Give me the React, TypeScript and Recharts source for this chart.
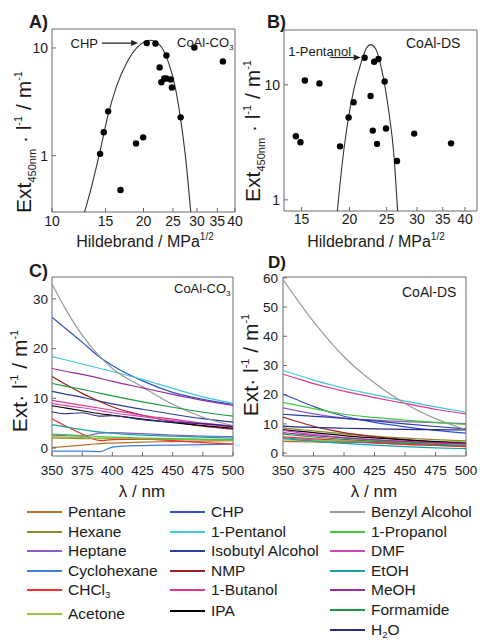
import React from 'react';
import { ComposedChart, LineChart, Line, Scatter, XAxis, YAxis, ReferenceArea, ReferenceLine } from 'recharts';

const FONT = '"Liberation Sans", Arial, Helvetica, sans-serif';
const INK = '#1a1a1a';
const FRAME = '#6a6a6a';

// A) CoAl-CO3: extinction at 450 nm vs Hildebrand parameter
const aHildebrand = [20.5, 21.9, 23.8, 22.6, 22.9, 23.4, 23.8, 24.6, 24.8, 26.5, 29.4, 36.5, 15.3, 14.8, 14.4, 18.9, 19.95, 16.8];
const aExt = [11.1, 11.0, 8.5, 6.6, 4.8, 5.2, 5.2, 5.1, 4.3, 2.27, 10.1, 7.5, 2.58, 1.65, 1.04, 1.3, 1.48, 0.48];
const aFitX = [12.8, 13.5, 14.35, 15.3, 16.3, 17.6, 19.0, 21.0, 22.6, 24.1, 25.4, 26.7, 27.7, 28.6];
const aFitY = [0.3, 0.52, 1.06, 2.4, 4.4, 7.25, 10.0, 11.8, 10.7, 7.5, 4.4, 1.87, 0.8, 0.3];
const aXTicks = [10, 15, 20, 25, 30, 35, 40];

// B) CoAl-DS
const bHildebrand = [14.5, 14.9, 15.3, 16.7, 18.9, 19.9, 20.5, 21.9, 22.7, 23.0, 23.2, 23.8, 23.6, 24.7, 24.9, 26.6, 29.5, 36.8];
const bExt = [3.57, 3.17, 10.9, 10.3, 2.92, 5.2, 7.06, 17.2, 8.0, 4.0, 15.9, 16.8, 3.07, 10.7, 4.17, 2.18, 3.77, 3.1];
const bFitX = [18.6, 19.1, 19.7, 20.5, 21.4, 22.2, 22.7, 23.4, 24.3, 25.3, 26.1, 26.7];
const bFitY = [0.8, 1.92, 4.28, 8.9, 15.2, 21.2, 22.4, 20.6, 13.3, 5.98, 2.51, 0.8];
const bXTicks = [15, 20, 25, 30, 35, 40];
const logYTicks = [1, 10];

// C) / D) spectra
const wavelength = [350, 360, 375, 390, 400, 425, 450, 475, 500];
const wlTicks = [350, 375, 400, 425, 450, 475, 500];

const solvents = ['Pentane', 'Hexane', 'Heptane', 'Cyclohexane', 'CHCl3', 'Acetone', 'CHP', '1-Pentanol', 'Isobutyl Alcohol', 'NMP', '1-Butanol', 'IPA', 'Benzyl Alcohol', '1-Propanol', 'DMF', 'EtOH', 'MeOH', 'Formamide', 'H2O'];
const solventColors = ['#b4722f', '#8d8a2e', '#8a5bc8', '#3d7fd0', '#ff2a2a', '#a0c040', '#3250c8', '#40c8d8', '#2b3c9e', '#a01c1c', '#e0388f', '#000000', '#9a9a9a', '#40c840', '#d048b8', '#1aa0a0', '#9a2c9c', '#1a9a40', '#2a2a80'];

const cPentane = [0.1, 0.3, 0.6, 0.9, 1.0, 1.2, 1.3, 1.4, 1.5];
const cHexane = [2.0, 2.0, 1.9, 1.9, 1.9, 1.8, 1.7, 1.7, 1.6];
const cHeptane = [2.6, 2.5, 2.4, 3.0, 3.1, 2.9, 2.6, 2.4, 2.3];
const cCyclohexane = [-0.6, -0.6, -0.6, -0.7, 0.2, 0.5, 0.6, 0.7, 0.8];
const cChloroform = [5.9, 4.6, 2.8, 1.5, 1.7, 1.8, 1.5, 1.1, 0.8];
const cAcetone = [2.3, 2.2, 2.1, 2.0, 2.0, 1.9, 1.8, 1.7, 1.6];
const cCHP = [26.3, 24.3, 21.3, 18.2, 16.6, 13.5, 11.2, 9.8, 8.8];
const cPentanol = [18.4, 17.8, 16.9, 16.0, 15.4, 13.8, 12.0, 10.3, 9.0];
const cIsobutyl = [11.4, 10.9, 10.2, 9.4, 8.9, 7.8, 6.8, 5.9, 5.2];
const cNMP = [14.4, 13.0, 11.0, 9.3, 8.3, 6.6, 5.3, 4.4, 3.8];
const cButanol = [9.6, 9.2, 8.6, 8.0, 7.6, 6.6, 5.8, 5.0, 4.4];
const cIPA = [8.5, 8.1, 7.5, 6.9, 6.6, 5.8, 5.1, 4.5, 4.0];
const cBenzyl = [33, 28.5, 22.7, 18.3, 16, 12.3, 8.8, 6.2, 4.5];
const cPropanol = [2.8, 2.7, 2.5, 2.3, 2.2, 2.0, 1.9, 1.8, 1.7];
const cDMF = [9.0, 8.6, 8.1, 7.5, 7.1, 6.3, 5.5, 4.8, 4.2];
const cEtOH = [4.7, 4.3, 3.7, 3.2, 3.0, 2.6, 2.4, 2.2, 2.0];
const cMeOH = [16.0, 15.5, 14.8, 14.0, 13.4, 12.1, 10.8, 9.6, 8.6];
const cFormamide = [13.0, 12.5, 11.8, 11.0, 10.5, 9.3, 8.2, 7.2, 6.4];
const cWater = [7.3, 6.9, 7.1, 6.4, 6.5, 5.7, 5.2, 4.9, 4.3];

const dPentane = [4.0, 3.9, 3.8, 3.7, 3.7, 3.6, 3.5, 3.5, 3.4];
const dHexane = [8.6, 8.2, 7.6, 7.0, 6.6, 5.8, 5.1, 4.6, 4.2];
const dHeptane = [15.5, 14.6, 13.4, 12.5, 12.0, 11.3, 10.8, 10.4, 10.1];
const dCyclohexane = [5.2, 4.9, 4.5, 4.1, 3.9, 3.4, 3.0, 2.7, 2.4];
const dChloroform = [5.6, 5.3, 4.9, 4.5, 4.2, 3.6, 3.0, 2.6, 2.2];
const dAcetone = [4.5, 4.4, 4.3, 4.2, 4.2, 4.1, 4.0, 4.0, 3.9];
const dCHP = [20.2, 18.5, 16.0, 13.8, 12.6, 10.5, 9.0, 7.8, 6.8];
const dPentanol = [28.2, 27.0, 25.0, 23.3, 22.2, 20.0, 17.8, 15.8, 14.0];
const dIsobutyl = [13.3, 13.0, 12.6, 12.2, 11.9, 11.0, 10.0, 9.1, 8.3];
const dNMP = [12.3, 11.0, 9.2, 7.8, 7.0, 5.6, 4.6, 3.8, 3.2];
const dButanol = [27.0, 25.7, 23.8, 22.2, 21.2, 19.0, 17.0, 15.0, 13.4];
const dIPA = [8.0, 7.6, 7.0, 6.4, 6.0, 5.2, 4.5, 3.9, 3.4];
const dBenzyl = [59.5, 53.5, 45, 37.5, 33, 24, 17, 11.8, 8];
const dPropanol = [17.4, 16.5, 15.2, 14.0, 13.3, 12.2, 11.3, 10.5, 9.8];
const dDMF = [7.8, 7.2, 6.4, 5.7, 5.3, 4.5, 3.9, 3.4, 3.0];
const dEtOH = [5.0, 4.6, 4.1, 3.6, 3.3, 2.7, 2.2, 1.8, 1.5];
const dMeOH = [7.0, 6.6, 6.0, 5.5, 5.2, 4.5, 4.0, 3.6, 3.3];
const dFormamide = [6.5, 6.1, 5.5, 5.0, 4.7, 4.0, 3.4, 3.0, 2.6];
const dWater = [9.2, 9.0, 8.8, 8.6, 8.5, 8.3, 8.1, 8.0, 7.9];

const cSpectra = [cPentane, cHexane, cHeptane, cCyclohexane, cChloroform, cAcetone, cCHP, cPentanol, cIsobutyl, cNMP, cButanol, cIPA, cBenzyl, cPropanol, cDMF, cEtOH, cMeOH, cFormamide, cWater];
const dSpectra = [dPentane, dHexane, dHeptane, dCyclohexane, dChloroform, dAcetone, dCHP, dPentanol, dIsobutyl, dNMP, dButanol, dIPA, dBenzyl, dPropanol, dDMF, dEtOH, dMeOH, dFormamide, dWater];

const pairs = (xs: number[], ys: number[]) => xs.map((x, i) => ({ x, y: ys[i] }));
const spectraRows = (spectra: number[][]) =>
  wavelength.map((wl, i) => {
    const row: Record<string, number> = { wl };
    solvents.forEach((s, j) => { row[s] = spectra[j][i]; });
    return row;
  });

const aPoints = pairs(aHildebrand, aExt);
const aFit = pairs(aFitX, aFitY);
const bPoints = pairs(bHildebrand, bExt);
const bFit = pairs(bFitX, bFitY);
const cRows = spectraRows(cSpectra);
const dRows = spectraRows(dSpectra);

const legendColumns = [solvents.slice(0, 6), solvents.slice(6, 12), solvents.slice(12)];
const legendLineX = [27, 170, 330];
const legendRowY = [
  [512, 531.5, 551, 571, 590, 614],
  [512, 531.5, 551, 571, 590, 611],
  [512, 531.5, 551, 571, 590, 610, 630],
];

const Sub = ({ children }: { children: React.ReactNode }) => (
  <sub style={{ fontSize: '0.62em', verticalAlign: '-0.35em', lineHeight: 0 }}>{children}</sub>
);

const chem = (s: string) => {
  if (s === 'CHCl3') return <>CHCl<Sub>3</Sub></>;
  if (s === 'H2O') return <>H<Sub>2</Sub>O</>;
  return s;
};

const dot = (p: any) => <circle cx={p.cx} cy={p.cy} r={3.2} fill="#000" />;

const arrow = (label: string, dx: number, dy: number) => (p: any) => (
  <g>
    <line x1={p.x1} y1={p.y1} x2={p.x2 - 5} y2={p.y2} stroke="#222" strokeWidth={1.2} />
    <polygon points={`${p.x2},${p.y2} ${p.x2 - 7},${p.y2 - 3} ${p.x2 - 7},${p.y2 + 3}`} fill="#222" />
    <text x={p.x1 + dx} y={p.y1 + dy} textAnchor="end" fontSize={13} fill={INK}>{label}</text>
  </g>
);

// titles take their anchor through "at" so the axis cannot override it
function HildebrandTitle({ at }: { at: number[] }) {
  return (
    <text x={at[0]} y={at[1]} textAnchor="middle" fontSize={16} fill={INK}>
      Hildebrand / MPa<tspan dy={-7} fontSize={10}>1/2</tspan>
    </text>
  );
}

function LambdaTitle({ at }: { at: number[] }) {
  return (
    <text x={at[0]} y={at[1]} textAnchor="middle" fontSize={17} fill={INK}>λ / nm</text>
  );
}

function ExtTitle({ at, sub }: { at: number[]; sub?: string }) {
  return (
    <text transform={`translate(${at[0]},${at[1]}) rotate(-90)`} textAnchor="middle" fontSize={21} fill={INK}>
      Ext
      {sub ? <tspan dy={5} fontSize={11}>{sub}</tspan> : null}
      <tspan dy={sub ? -5 : 0}>{sub ? ' · l' : '· l'}</tspan>
      <tspan dy={-9} fontSize={11}>-1</tspan>
      <tspan dy={9}> / m</tspan>
      <tspan dy={-9} fontSize={11}>-1</tspan>
    </text>
  );
}

const tickA = { fontSize: 14, fill: INK };
const tickC = { fontSize: 13.5, fill: INK };

function Tag({ left, top, size, bold, children }: { left: number; top: number; size: number; bold?: boolean; children: React.ReactNode }) {
  return (
    <div style={{ position: 'absolute', left, top, fontSize: size, fontWeight: bold ? 'bold' : 'normal', lineHeight: 1, whiteSpace: 'nowrap' }}>
      {children}
    </div>
  );
}

export default function App() {
  return (
    <div style={{ position: 'absolute', left: 0, top: 0, width: 480, height: 640, background: '#fff', fontFamily: FONT, color: INK, overflow: 'hidden' }}>
      {/* A */}
      <div style={{ position: 'absolute', left: 0, top: 0 }}>
        <ComposedChart width={248} height={250} margin={{ top: 29, right: 13, left: 0, bottom: 0 }}>
          <XAxis type="number" dataKey="x" scale="log" domain={[10, 40]} ticks={aXTicks} interval={0} allowDataOverflow
            axisLine={false} tickSize={-4} tickMargin={8} tickLine={{ stroke: FRAME }} tick={tickA} height={38}
            label={<HildebrandTitle at={[145, 247]} />} />
          <YAxis type="number" dataKey="y" scale="log" domain={[0.3, 15]} ticks={logYTicks} interval={0} allowDataOverflow
            axisLine={false} tickSize={-4} tickMargin={8} tickLine={{ stroke: FRAME }} tick={tickA} width={52}
            label={<ExtTitle at={[31, 142]} sub="450nm" />} />
          <ReferenceArea x1={10} x2={40} y1={0.3} y2={15} fill="none" stroke={FRAME} />
          <Line data={aFit} dataKey="y" type="monotone" stroke="#333" strokeWidth={1.1} dot={false} isAnimationActive={false} />
          <Scatter data={aPoints} dataKey="y" shape={dot} isAnimationActive={false} />
          <ReferenceLine segment={[{ x: 14.6, y: 11.1 }, { x: 19.2, y: 11.1 }]} shape={arrow('CHP', -4, 5)} />
        </ComposedChart>
      </div>

      {/* B */}
      <div style={{ position: 'absolute', left: 240, top: 0 }}>
        <ComposedChart width={240} height={250} margin={{ top: 30, right: 3, left: 0, bottom: 0 }}>
          <XAxis type="number" dataKey="x" scale="log" domain={[13.5, 43]} ticks={bXTicks} interval={0} allowDataOverflow
            axisLine={false} tickSize={-4} tickMargin={7} tickLine={{ stroke: FRAME }} tick={tickA} height={39}
            label={<HildebrandTitle at={[136, 247]} />} />
          <YAxis type="number" dataKey="y" scale="log" domain={[0.8, 30]} ticks={logYTicks} interval={0} allowDataOverflow
            axisLine={false} tickSize={-4} tickMargin={8} tickLine={{ stroke: FRAME }} tick={tickA} width={44}
            label={<ExtTitle at={[20, 131]} sub="450nm" />} />
          <ReferenceArea x1={13.5} x2={43} y1={0.8} y2={30} fill="none" stroke={FRAME} />
          <Line data={bFit} dataKey="y" type="monotone" stroke="#333" strokeWidth={1.1} dot={false} isAnimationActive={false} />
          <Scatter data={bPoints} dataKey="y" shape={dot} isAnimationActive={false} />
          <ReferenceLine segment={[{ x: 17.8, y: 17.3 }, { x: 21.4, y: 17.3 }]} shape={arrow('1-Pentanol', 21, -1.5)} />
        </ComposedChart>
      </div>

      {/* C */}
      <div style={{ position: 'absolute', left: 0, top: 255 }}>
        <LineChart width={250} height={245} data={cRows} margin={{ top: 22, right: 17, left: 0, bottom: 0 }}>
          <XAxis type="number" dataKey="wl" domain={[350, 500]} ticks={wlTicks} interval={0} allowDataOverflow
            axisLine={false} tickSize={-4} tickMargin={13} tickLine={{ stroke: FRAME }} tick={tickC} height={44}
            label={<LambdaTitle at={[142, 242]} />} />
          <YAxis type="number" domain={[-1.6, 34.4]} ticks={[0, 10, 20, 30]} interval={0} allowDataOverflow
            axisLine={false} tickSize={-4} tickMargin={8} tickLine={{ stroke: FRAME }} tick={tickC} width={52}
            label={<ExtTitle at={[27, 126]} />} />
          {solvents.map((s, j) => (
            <Line key={s} dataKey={s} type="monotone" stroke={solventColors[j]} strokeWidth={1.2} dot={false} isAnimationActive={false} />
          ))}
          <ReferenceArea x1={350} x2={500} y1={-1.6} y2={34.4} fill="none" stroke={FRAME} />
        </LineChart>
      </div>

      {/* D */}
      <div style={{ position: 'absolute', left: 240, top: 255 }}>
        <LineChart width={240} height={245} data={dRows} margin={{ top: 22, right: 14, left: 0, bottom: 0 }}>
          <XAxis type="number" dataKey="wl" domain={[350, 500]} ticks={wlTicks} interval={0} allowDataOverflow
            axisLine={false} tickSize={-4} tickMargin={13} tickLine={{ stroke: FRAME }} tick={tickC} height={44}
            label={<LambdaTitle at={[134, 242]} />} />
          <YAxis type="number" domain={[-1, 60.3]} ticks={[0, 10, 20, 30, 40, 50, 60]} interval={0} allowDataOverflow
            axisLine={false} tickSize={-4} tickMargin={9} tickLine={{ stroke: FRAME }} tick={tickC} width={43}
            label={<ExtTitle at={[18, 110]} />} />
          {solvents.map((s, j) => (
            <Line key={s} dataKey={s} type="monotone" stroke={solventColors[j]} strokeWidth={1.2} dot={false} isAnimationActive={false} />
          ))}
          <ReferenceArea x1={350} x2={500} y1={-1} y2={60.3} fill="none" stroke={FRAME} />
        </LineChart>
      </div>

      {/* panel letters and tags */}
      <Tag left={29} top={13} size={18} bold>A)</Tag>
      <Tag left={267} top={13} size={18} bold>B)</Tag>
      <Tag left={29} top={262} size={18} bold>C)</Tag>
      <Tag left={268} top={254} size={17} bold>D)</Tag>
      <Tag left={177} top={36} size={13}>CoAl-CO<Sub>3</Sub></Tag>
      <Tag left={406} top={36} size={14}>CoAl-DS</Tag>
      <Tag left={174} top={282} size={13}>CoAl-CO<Sub>3</Sub></Tag>
      <Tag left={402} top={285} size={14}>CoAl-DS</Tag>

      {/* legend */}
      {legendColumns.map((col, ci) =>
        col.map((s, ri) => (
          <div key={s} style={{ position: 'absolute', left: legendLineX[ci], top: legendRowY[ci][ri] - 10, height: 20, display: 'flex', alignItems: 'center', whiteSpace: 'nowrap' }}>
            <span style={{ display: 'inline-block', width: 35, height: 2, background: solventColors[solvents.indexOf(s)], marginRight: 6 }} />
            <span style={{ fontSize: 15.5, lineHeight: '20px' }}>{chem(s)}</span>
          </div>
        ))
      )}
    </div>
  );
}
